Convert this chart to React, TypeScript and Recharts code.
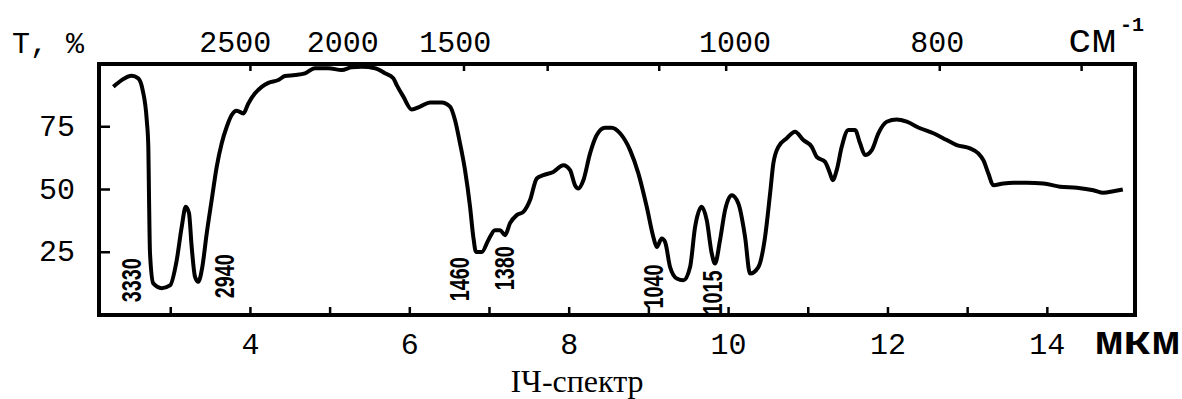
import { LineChart, Line, XAxis, YAxis, ReferenceArea, ReferenceDot } from 'recharts';

// IR spectrum, wavelength (µm) vs transmittance (%)
const wavelength = [
  2.28, 2.385, 2.51, 2.593, 2.648, 2.699, 2.719, 2.727, 2.74, 2.781,
  2.887, 2.991, 3.075, 3.138, 3.188, 3.229, 3.263, 3.305, 3.346, 3.396,
  3.452, 3.514, 3.577, 3.64, 3.703, 3.765, 3.828, 3.911, 3.974, 4.058,
  4.142, 4.225, 4.35, 4.434, 4.56, 4.685, 4.811, 4.977, 5.146, 5.271,
  5.397, 5.564, 5.689, 5.793, 5.836, 5.919, 6.024, 6.128, 6.254, 6.4,
  6.505, 6.567, 6.63, 6.693, 6.756, 6.797, 6.831, 6.903, 6.985, 7.069,
  7.132, 7.195, 7.258, 7.342, 7.425, 7.509, 7.593, 7.676, 7.801, 7.927,
  8.011, 8.073, 8.115, 8.178, 8.262, 8.346, 8.45, 8.534, 8.638, 8.764,
  8.868, 8.973, 9.056, 9.099, 9.161, 9.203, 9.266, 9.35, 9.433, 9.517,
  9.58, 9.663, 9.726, 9.789, 9.83, 9.893, 9.956, 10.04, 10.123, 10.207,
  10.269, 10.374, 10.458, 10.521, 10.562, 10.625, 10.73, 10.834, 10.938, 11.044,
  11.106, 11.211, 11.273, 11.307, 11.357, 11.42, 11.503, 11.587, 11.65, 11.713,
  11.797, 11.88, 11.985, 12.11, 12.236, 12.403, 12.57, 12.738, 12.863, 13.03,
  13.134, 13.197, 13.26, 13.322, 13.448, 13.574, 13.741, 13.95, 14.16, 14.369,
  14.578, 14.703, 14.829, 14.947,
];

const transmittance = [
  90.9, 93.6, 95.3, 94.3, 89.6, 77.7, 67.0, 48.5, 24.6, 12.6,
  10.7, 11.8, 21.8, 35.1, 43.1, 40.6, 27.1, 15.2, 13.2, 19.1,
  32.6, 45.8, 59.0, 68.4, 75.0, 79.7, 81.4, 80.3, 84.3, 88.3,
  90.9, 92.5, 93.6, 95.2, 95.6, 96.3, 98.3, 98.3, 97.6, 98.7,
  98.9, 98.3, 96.3, 94.3, 91.6, 87.0, 81.9, 83.0, 84.7, 84.7,
  83.0, 77.7, 68.4, 57.7, 43.1, 31.1, 25.1, 25.1, 29.8, 33.8,
  33.8, 31.8, 36.6, 39.8, 41.1, 45.8, 54.4, 55.7, 57.0, 59.7,
  57.7, 51.7, 50.4, 53.7, 64.4, 71.7, 74.6, 74.6, 72.4, 65.7,
  56.4, 43.1, 31.1, 27.1, 30.5, 29.1, 19.1, 14.5, 13.8, 19.1,
  35.1, 43.1, 37.8, 24.5, 20.5, 29.8, 41.8, 47.7, 44.4, 31.1,
  16.5, 19.1, 31.1, 48.4, 60.4, 67.0, 70.4, 73.0, 69.7, 67.0,
  63.0, 61.0, 56.4, 53.7, 57.7, 67.0, 73.7, 73.7, 68.4, 63.7,
  65.7, 72.4, 77.0, 77.9, 77.0, 74.4, 72.4, 69.7, 67.7, 66.4,
  64.4, 61.7, 56.4, 51.7, 52.4, 52.7, 52.7, 52.4, 51.1, 50.7,
  49.7, 48.7, 49.3, 50.0,
];

const bottomTicks = [3, 4, 5, 6, 7, 8, 9, 10, 11, 12, 13, 14];
const bottomLabels = [4, 6, 8, 10, 12, 14];
const yTicks = [25, 50, 75];

// top axis: tick marks (µm positions) and wavenumber labels
const topTickMarks = [4.0, 6.68, 7.73, 9.13, 9.97, 12.65, 14.43];
const topLabels = ['2500', '2000', '1500', '1000', '800'];
const topLabelAt = [3.81, 5.16, 6.57, 10.08, 12.62];

// band labels written vertically under the peaks
const peakLabels = ['3330', '2940', '1460', '1380', '1040', '1015'];
const peakLabelAt = [2.5, 3.67, 6.62, 7.19, 9.05, 9.79];
const peakLabelT = [13.8, 15.4, 14.2, 18.6, 11.4, 9.0];

const data = wavelength.map((w, i) => ({ w, t: transmittance[i] }));

const MONO = '"Liberation Mono", "Courier New", monospace';
const SERIF = '"Liberation Serif", "Times New Roman", serif';

function BottomTick({ x, y, payload }: any) {
  const v = payload.value;
  return (
    <g>
      <line x1={x} x2={x} y1={y} y2={y - 8} stroke="#000" strokeWidth={2.5} />
      {bottomLabels.includes(v) && (
        <text x={x} y={y + 39} textAnchor="middle" fontFamily={MONO} fontSize={30} fill="#000">
          {v}
        </text>
      )}
    </g>
  );
}

function TopTick({ x, y }: any) {
  return <line x1={x} x2={x} y1={y} y2={y + 7} stroke="#000" strokeWidth={2.5} />;
}

function LeftTick({ x, y, payload }: any) {
  return (
    <g>
      <line x1={x} x2={x + 11} y1={y} y2={y} stroke="#000" strokeWidth={2.5} />
      <text x={x - 24} y={y + 9} textAnchor="end" fontFamily={MONO} fontSize={30} fill="#000">
        {payload.value}
      </text>
    </g>
  );
}

export default function App() {
  return (
    <div style={{ position: 'absolute', left: 0, top: 0, width: 1182, height: 399, background: '#fff' }}>
      <LineChart width={1182} height={399} data={data} margin={{ top: 34, right: 47, bottom: 54, left: 39 }}>
        <XAxis
          dataKey="w"
          type="number"
          domain={[2.1, 15.1]}
          allowDataOverflow
          ticks={bottomTicks}
          interval={0}
          axisLine={false}
          tickLine={false}
          tickSize={0}
          tickMargin={0}
          height={30}
          tick={(p: any) => <BottomTick {...p} />}
        />
        <XAxis
          xAxisId="top"
          orientation="top"
          dataKey="w"
          type="number"
          domain={[2.1, 15.1]}
          allowDataOverflow
          ticks={topTickMarks}
          interval={0}
          axisLine={false}
          tickLine={false}
          tickSize={0}
          tickMargin={0}
          height={30}
          tick={(p: any) => <TopTick {...p} />}
        />
        <YAxis
          type="number"
          domain={[0, 100]}
          ticks={yTicks}
          interval={0}
          axisLine={false}
          tickLine={false}
          tickSize={0}
          tickMargin={0}
          width={60}
          tick={(p: any) => <LeftTick {...p} />}
        />
        <ReferenceArea x1={2.1} x2={15.1} y1={0} y2={100} fill="none" stroke="#000" strokeWidth={4} />
        {topLabels.map((lab, i) => (
          <ReferenceDot
            key={lab}
            x={topLabelAt[i]}
            y={100}
            ifOverflow="visible"
            shape={(p: any) => (
              <text x={p.cx} y={p.cy - 12} textAnchor="middle" fontFamily={MONO} fontSize={30} fill="#000">
                {lab}
              </text>
            )}
          />
        ))}
        {peakLabels.map((lab, i) => (
          <ReferenceDot
            key={lab}
            x={peakLabelAt[i]}
            y={peakLabelT[i]}
            ifOverflow="visible"
            shape={(p: any) => (
              <text
                x={p.cx}
                y={p.cy}
                dy="0.35em"
                transform={`rotate(-90 ${p.cx} ${p.cy})`}
                textAnchor="middle"
                fontFamily='"Liberation Sans", Arial, sans-serif'
                fontWeight="bold"
                fontSize={28}
                textLength={44}
                lengthAdjust="spacingAndGlyphs"
                fill="#000"
              >
                {lab}
              </text>
            )}
          />
        ))}
        <Line
          type="monotone"
          dataKey="t"
          stroke="#000"
          strokeWidth={4}
          dot={false}
          isAnimationActive={false}
          strokeLinejoin="round"
        />
      </LineChart>
      <svg
        width={1182}
        height={399}
        style={{ position: 'absolute', left: 0, top: 0, pointerEvents: 'none' }}
      >
        <text x={12} y={53} fontFamily={MONO} fontSize={30} fill="#000">T, %</text>
        <text x={1068} y={52} fontFamily={MONO} fontSize={40} fill="#000">см</text>
        <text x={1120} y={31} fontFamily={MONO} fontSize={20} fontWeight="bold" fill="#000">-1</text>
        <text
          x={1095}
          y={354}
          fontFamily={MONO}
          fontSize={40}
          fontWeight="bold"
          textLength={85}
          lengthAdjust="spacingAndGlyphs"
          fill="#000"
        >
          мкм
        </text>
        <text x={577} y={392} textAnchor="middle" fontFamily={SERIF} fontSize={32} fill="#000">
          ІЧ-спектр
        </text>
      </svg>
    </div>
  );
}
